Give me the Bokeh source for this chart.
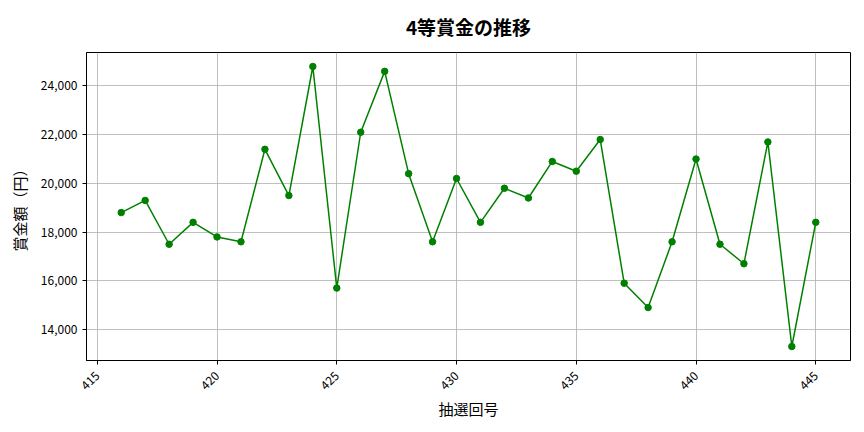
import math
from bokeh.plotting import figure
from bokeh.models import FixedTicker, NumeralTickFormatter, Range1d, Title
from bokeh.embed import file_html
from bokeh.resources import INLINE

draws = list(range(416, 446))
prizes = [18800, 19300, 17500, 18400, 17800, 17600, 21400, 19500, 24800, 15700,
          22100, 24600, 20400, 17600, 20200, 18400, 19800, 19400, 20900, 20500,
          21800, 15900, 14900, 17600, 21000, 17500, 16700, 21700, 13300, 18400]
x_ticks = [415, 420, 425, 430, 435, 440, 445]
y_ticks = [14000, 16000, 18000, 20000, 22000, 24000]

FONT = "Noto Sans CJK JP"

xpad = (max(draws) - min(draws)) * 0.05
ypad = (max(prizes) - min(prizes)) * 0.05

p = figure(width=856, height=424, output_backend="svg", toolbar_location=None,
           x_range=Range1d(min(draws) - xpad, max(draws) + xpad),
           y_range=Range1d(min(prizes) - ypad, max(prizes) + ypad),
           min_border_left=86, min_border_right=6, min_border_top=52, min_border_bottom=64)

p.title = Title(text="4等賞金の推移", align="center", vertical_align="top", text_font=FONT,
                text_font_size="19px", text_font_style="bold", text_color="#000000",
                offset=0, standoff=21)

p.line(draws, prizes, line_color="#008000", line_width=1.5)
p.scatter(draws, prizes, size=6.5, fill_color="#008000", line_color="#008000")

p.outline_line_color = "#000000"
p.outline_line_width = 1

for ax in (p.xaxis[0], p.yaxis[0]):
    ax.axis_line_color = "#000000"
    ax.major_tick_line_color = "#000000"
    ax.major_tick_out = 4
    ax.major_tick_in = 0
    ax.minor_tick_line_color = None
    ax.major_label_text_font = FONT
    ax.major_label_text_font_size = "12px"
    ax.major_label_text_color = "#000000"
    ax.axis_label_text_font = FONT
    ax.axis_label_text_font_size = "15px"
    ax.axis_label_text_font_style = "normal"
    ax.axis_label_text_color = "#000000"

p.xaxis.ticker = FixedTicker(ticks=x_ticks)
p.yaxis.ticker = FixedTicker(ticks=y_ticks)
p.yaxis.formatter = NumeralTickFormatter(format="0,0")
p.xaxis.major_label_orientation = math.pi / 4
p.xaxis.major_label_standoff = 9
p.xaxis.axis_label = "抽選回号"
p.xaxis.axis_label_standoff = 1
p.yaxis.axis_label = "賞金額（円）"
p.yaxis.axis_label_standoff = 8

p.grid.grid_line_color = "#b0b0b0"
p.grid.grid_line_width = 0.8

open("out.html", "w").write(file_html(p, INLINE))
